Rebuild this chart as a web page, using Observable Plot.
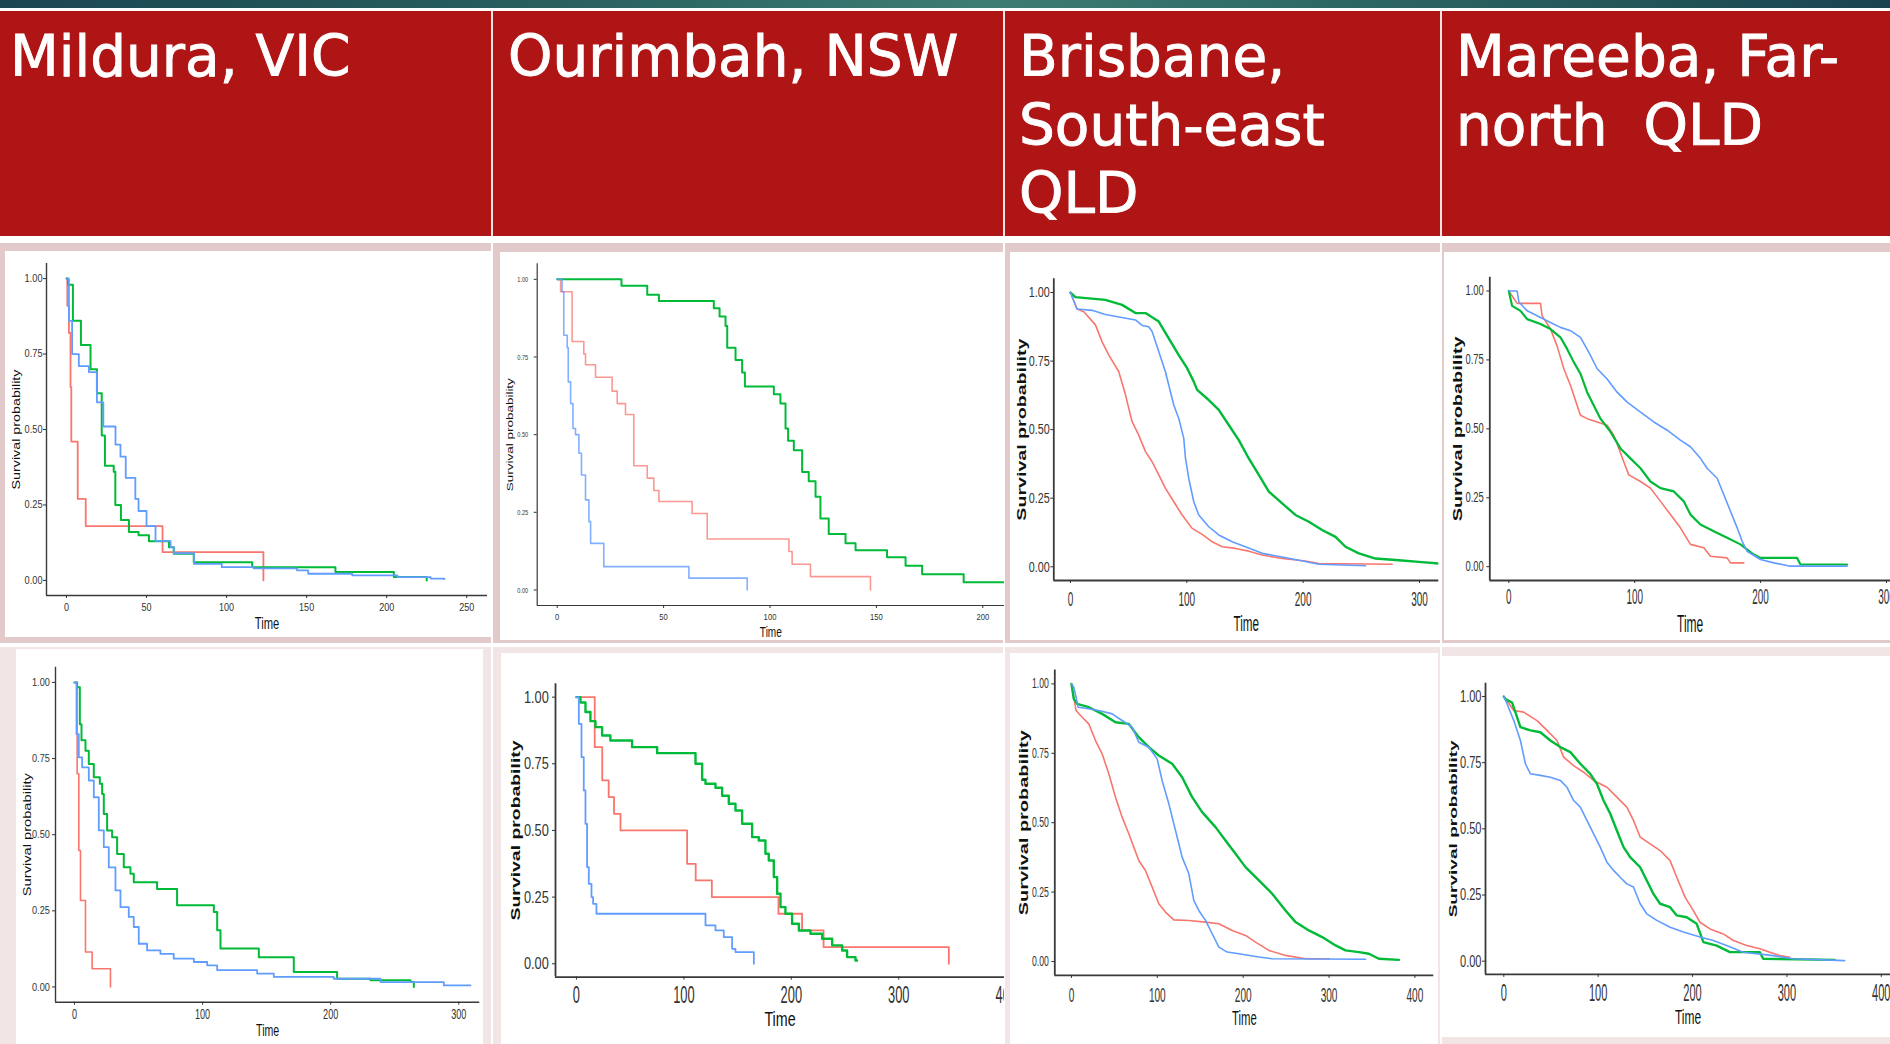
<!DOCTYPE html>
<html>
<head>
<meta charset="utf-8">
<script src="https://cdn.jsdelivr.net/npm/d3@7"></script>
<script src="https://cdn.jsdelivr.net/npm/@observablehq/plot@0.6"></script>
<style>
  html, body { margin: 0; padding: 0; width: 1890px; height: 1044px; overflow: hidden; background: #fff; }
  #page { position: relative; width: 1890px; height: 1044px; overflow: hidden; }
  .abs { position: absolute; }
  .band { left: 0; top: 0; width: 1890px; height: 8px;
    background: linear-gradient(90deg, #1b4651 0%, #28605f 30%, #3e7d73 52%, #2c6663 72%, #1a4450 100%); }
  .header { left: 0; top: 11px; width: 1890px; height: 225px; background: #af1515; }
  .sep { top: 11px; width: 2px; height: 225px; background: #f3e3e3; }
  .htext { color: #fff; font-family: "DejaVu Sans", sans-serif; font-size: 56.5px; line-height: 68.5px;
    white-space: pre; top: 23px; -webkit-text-stroke: 0.9px #fff; }
  .cell1 { background: #e3caca; top: 243px; height: 400px; }
  .cell2 { background: #f1e5e5; top: 647px; height: 397px; }
  .panel svg { display: block; }
</style>
</head>
<body>
<div id="page"></div>
<script>
// Column headings
const regions = ["Mildura, VIC", "Ourimbah, NSW", "Brisbane,\nSouth-east\nQLD", "Mareeba, Far-\nnorth  QLD"];

// Kaplan–Meier survival curves: [time, survival probability]
// Mildura, VIC – upper panel
const milduraTopRed = [[0,1],[0.5,0.91],[1.5,0.82],[2.5,0.64],[3,0.46],[7,0.27],[12,0.18],[60,0.094],[123,0]];
const milduraTopGreen = [[0,1],[1,0.98],[4,0.86],[9,0.78],[15,0.70],[19,0.62],[22,0.48],[24,0.38],[29.5,0.36],[30.5,0.25],[34,0.20],[39,0.16],[45,0.15],[51.5,0.13],[64,0.11],[67,0.088],[79.5,0.06],[116,0.044],[168,0.028],[204.5,0.011],[225,0]];
const milduraTopBlue = [[0,1],[1.5,0.86],[3.5,0.75],[7.7,0.71],[14,0.69],[19,0.59],[23,0.51],[30.6,0.45],[33.7,0.41],[37,0.34],[43,0.27],[45,0.23],[50,0.18],[55.6,0.13],[65,0.11],[67,0.09],[79.6,0.055],[97,0.044],[117,0.04],[144,0.033],[151,0.022],[178.5,0.017],[206.7,0.011],[227.5,0.006],[236,0.004]];

// Ourimbah, NSW – upper panel
const ourimbahTopRed = [[0,1],[1.6,0.96],[7,0.80],[12.5,0.76],[13.3,0.725],[18,0.685],[25.8,0.64],[28.2,0.60],[32.1,0.565],[36,0.40],[42.3,0.36],[45.4,0.32],[47.8,0.285],[63.4,0.246],[70.5,0.164],[108.9,0.124],[110.4,0.083],[119,0.043],[147.2,0]];
const ourimbahTopGreen = [[0,1],[30.2,0.979],[42.3,0.95],[47.8,0.93],[73.6,0.907],[76.3,0.88],[79.1,0.85],[79.9,0.78],[83.8,0.74],[86.9,0.70],[88.2,0.655],[101.8,0.63],[104.9,0.60],[107.3,0.52],[108.5,0.48],[111.2,0.45],[115.1,0.38],[118.2,0.35],[121.4,0.30],[123.7,0.23],[127.6,0.18],[135.5,0.15],[140.2,0.128],[155,0.105],[163.7,0.078],[171.5,0.051],[191,0.025],[210.6,0.025]];
const ourimbahTopBlue = [[0,1],[2.3,0.96],[3.1,0.82],[4.7,0.78],[5.2,0.67],[6.3,0.60],[7.4,0.52],[8.6,0.50],[10.2,0.44],[11.4,0.37],[13.3,0.29],[14.9,0.22],[15.7,0.15],[21.9,0.075],[61.9,0.038],[89.3,0]];

// Brisbane, South-east QLD – upper panel
const brisbaneTopRed = [[0,1],[5.7,0.94],[11.5,0.93],[21.5,0.882],[27.2,0.82],[33,0.772],[41.5,0.712],[47.3,0.627],[53,0.529],[58.7,0.48],[64.5,0.42],[70.2,0.383],[75.9,0.335],[81.7,0.286],[88.8,0.237],[96,0.189],[104.6,0.14],[113.2,0.118],[121.8,0.091],[130.4,0.073],[141.8,0.067],[153.3,0.057],[164.8,0.043],[182,0.03],[202,0.021],[213.5,0.012],[276.5,0.009]];
const brisbaneTopGreen = [[0,1],[4.3,0.983],[30,0.973],[44.4,0.955],[55.9,0.925],[64.5,0.925],[75.9,0.894],[84.5,0.833],[93.1,0.772],[100.3,0.724],[106,0.675],[108.9,0.645],[118.9,0.608],[127.5,0.572],[136.1,0.517],[144.7,0.462],[153.3,0.395],[161.9,0.335],[170.5,0.274],[182,0.231],[193.4,0.189],[204.9,0.164],[216.3,0.134],[227.8,0.109],[236.4,0.073],[247.9,0.049],[262.2,0.030],[282.2,0.024],[299.4,0.018],[316.6,0.012]];
const brisbaneTopBlue = [[0,1],[5.7,0.94],[18.6,0.935],[30,0.92],[43,0.91],[55.9,0.90],[61.6,0.88],[67.3,0.875],[70.2,0.858],[75.9,0.785],[81.7,0.71],[84.5,0.663],[88.8,0.59],[93.1,0.541],[97.4,0.468],[98.9,0.395],[101.7,0.322],[106,0.237],[110.3,0.189],[118.9,0.146],[127.5,0.116],[139,0.091],[150.4,0.073],[164.8,0.049],[181.9,0.036],[196.3,0.024],[213.5,0.009],[253.6,0.004]];

// Mareeba, Far-north QLD – upper panel
const mareebaTopRed = [[0,1],[6.6,0.955],[25.2,0.955],[26.5,0.91],[33.1,0.862],[38.4,0.80],[43.7,0.718],[49,0.657],[54.3,0.585],[56.9,0.549],[62.2,0.537],[78.1,0.513],[83.4,0.477],[87.4,0.429],[91.3,0.381],[95.3,0.333],[104.6,0.309],[112.5,0.285],[120.5,0.237],[128.4,0.189],[136.3,0.141],[144.3,0.081],[154.9,0.069],[160.2,0.038],[173.4,0.032],[176.1,0.014],[186.7,0.014]];
const mareebaTopGreen = [[0,1],[2.6,0.946],[9.3,0.928],[14.6,0.898],[25.2,0.88],[33.1,0.862],[41,0.832],[46.3,0.79],[51.6,0.742],[56.9,0.70],[62.2,0.633],[67.5,0.585],[72.8,0.537],[80.8,0.489],[88.7,0.429],[96.6,0.393],[104.6,0.357],[112.5,0.309],[120.5,0.285],[131.1,0.273],[139,0.237],[144.3,0.189],[152.2,0.153],[162.8,0.129],[173.4,0.105],[184,0.081],[194.6,0.044],[199.9,0.032],[229,0.032],[231.7,0.008],[268.7,0.008]];
const mareebaTopBlue = [[0,1],[6.6,1],[8,0.96],[14.6,0.928],[25.2,0.904],[33.1,0.886],[41,0.868],[49,0.856],[56.9,0.832],[63.5,0.778],[70.2,0.718],[78.1,0.681],[86,0.633],[94,0.597],[104.6,0.561],[115.2,0.525],[125.8,0.495],[136.3,0.459],[144.3,0.435],[152.2,0.393],[157.5,0.357],[165.5,0.321],[170.8,0.261],[176.1,0.201],[181.4,0.141],[185.3,0.093],[189.3,0.056],[199.9,0.026],[210.5,0.014],[223.7,0.002],[268.7,0.002]];

// Mildura, VIC – lower panel
const milduraLowRed = [[0,1],[2.1,0.70],[3.4,0.448],[4.7,0.284],[8.6,0.115],[13.8,0.06],[28.1,0]];
const milduraLowGreen = [[0,1],[2.1,0.984],[4.2,0.863],[5.5,0.81],[8.6,0.776],[11.2,0.732],[15.1,0.689],[19.8,0.667],[21.6,0.634],[22.9,0.568],[25.5,0.514],[29.4,0.492],[33.3,0.437],[38.5,0.393],[43.7,0.372],[46.3,0.344],[64.5,0.322],[80.1,0.268],[108.8,0.246],[111.4,0.186],[114,0.126],[143.9,0.098],[171.2,0.049],[205,0.027],[231.1,0.022],[262.3,0.016],[264.9,0]];
const milduraLowBlue = [[0,1],[1.6,0.83],[3.4,0.754],[6,0.721],[11.2,0.678],[15.1,0.623],[19,0.514],[22.9,0.459],[26.8,0.393],[32,0.317],[35.9,0.262],[42.4,0.23],[46.3,0.197],[50.2,0.142],[56.7,0.12],[67.1,0.109],[77.5,0.093],[93.2,0.082],[103.6,0.071],[111.4,0.055],[142.6,0.044],[155.6,0.033],[202.4,0.027],[238.9,0.016],[288.3,0.005],[309.1,0.005]];

// Ourimbah, NSW – lower panel
const ourimbahLowRed = [[0,1],[17,0.8125],[24,0.6875],[30,0.625],[35,0.5625],[41,0.5],[103,0.375],[111,0.3125],[126,0.25],[188,0.1875],[210,0.125],[230,0.0625],[346.6,0]];
const ourimbahLowGreen = [[0,1],[3.7,0.98],[8.4,0.944],[13,0.91],[17.7,0.8875],[23.9,0.856],[31.6,0.8375],[51.8,0.8125],[75.1,0.79],[110.8,0.75],[117,0.69],[120.1,0.675],[129.4,0.66],[135.6,0.63],[141.8,0.60],[148,0.575],[154.2,0.525],[163.5,0.475],[169.7,0.4625],[175.9,0.4125],[179,0.3875],[183.7,0.325],[186.8,0.2625],[189.9,0.2125],[194.5,0.1875],[200.7,0.15],[207,0.125],[217.8,0.1125],[228.7,0.094],[238,0.069],[247.3,0.05],[251.9,0.025],[259.7,0.0125],[261.2,0.0125]];
const ourimbahLowBlue = [[0,1],[2.2,0.9],[4.7,0.775],[6.8,0.65],[8.4,0.525],[9.9,0.3625],[11.5,0.3],[14,0.25],[15.5,0.225],[18.6,0.1875],[120.1,0.144],[129.4,0.125],[137.1,0.1],[144.9,0.056],[148,0.044],[165.1,0]];

// Brisbane, South-east QLD – lower panel
const brisbaneLowRed = [[0,1],[2.7,0.952],[5.4,0.904],[12.4,0.88],[20.2,0.856],[28,0.796],[35.7,0.748],[43.5,0.676],[51.3,0.592],[59,0.52],[66.8,0.46],[72.6,0.412],[78.4,0.364],[86.2,0.328],[94,0.268],[101.7,0.208],[109.5,0.178],[119.2,0.15],[136.7,0.148],[156.1,0.142],[171.7,0.136],[187.2,0.112],[202.7,0.094],[214.4,0.07],[229.9,0.04],[249.3,0.022],[272.6,0.01],[299.8,0.01]];
const brisbaneLowGreen = [[0,1],[2.7,0.946],[6.6,0.928],[20.2,0.916],[35.7,0.892],[51.3,0.862],[66.8,0.856],[78.4,0.808],[90.1,0.772],[101.7,0.742],[117.3,0.712],[128.9,0.664],[140.6,0.592],[152.2,0.538],[167.8,0.484],[179.4,0.436],[191.1,0.388],[202.7,0.34],[218.3,0.292],[233.8,0.244],[249.3,0.184],[261,0.142],[276.5,0.112],[292,0.088],[307.6,0.058],[319.2,0.04],[334.8,0.034],[346.4,0.028],[358,0.01],[381.4,0.006]];
const brisbaneLowBlue = [[0,1],[2.7,0.988],[5.4,0.952],[7.8,0.916],[16.3,0.912],[31.8,0.904],[47.4,0.892],[59,0.868],[70.7,0.844],[78.4,0.79],[90.1,0.772],[99.8,0.73],[105.6,0.652],[113.4,0.568],[121.2,0.472],[128.9,0.376],[136.7,0.316],[142.5,0.22],[148.3,0.184],[156.1,0.148],[163.9,0.1],[171.7,0.052],[181.4,0.034],[195,0.028],[218.3,0.016],[233.8,0.01],[342.5,0.008]];

// Mareeba, Far-north QLD – lower panel
const mareebaLowRed = [[0,1],[10.6,0.947],[21.1,0.941],[35.2,0.909],[45.8,0.872],[56.4,0.834],[63.4,0.771],[74,0.739],[84.6,0.714],[95.2,0.683],[109.3,0.657],[119.8,0.62],[130.4,0.582],[137.4,0.532],[144.5,0.469],[155.1,0.443],[165.6,0.418],[176.2,0.38],[183.3,0.317],[192.1,0.242],[200.9,0.191],[207.9,0.147],[218.5,0.122],[232.6,0.103],[243.2,0.078],[257.3,0.059],[271.4,0.047],[281.9,0.034],[292.5,0.021],[303.1,0.015]];
const mareebaLowGreen = [[0,1],[1.8,0.99],[8.8,0.977],[17.6,0.884],[28.2,0.872],[38.8,0.865],[49.3,0.834],[59.9,0.809],[70.5,0.79],[81.1,0.746],[91.6,0.708],[98.7,0.67],[105.7,0.607],[112.8,0.557],[119.8,0.494],[126.9,0.431],[133.9,0.393],[144.5,0.355],[151.5,0.305],[158.6,0.254],[165.6,0.217],[176.2,0.204],[183.3,0.173],[193.8,0.166],[204.4,0.141],[211.5,0.072],[225.6,0.059],[239.6,0.034],[271.4,0.034],[274.9,0.009],[350.7,0.005]];
const mareebaLowBlue = [[0,1],[3.5,0.972],[10.6,0.909],[17.6,0.834],[22.9,0.746],[28.2,0.708],[38.8,0.702],[49.3,0.695],[59.9,0.683],[67,0.657],[74,0.607],[81.1,0.582],[88.1,0.532],[95.2,0.481],[102.2,0.431],[109.3,0.374],[116.3,0.343],[123.3,0.317],[130.4,0.292],[137.4,0.28],[144.5,0.217],[151.5,0.179],[162.1,0.154],[176.2,0.128],[190.3,0.11],[207.9,0.091],[222,0.078],[236.1,0.059],[253.7,0.034],[285.5,0.021],[306.6,0.009],[361.2,0.002]];

// Axis ticks
const yTicks = [0, 0.25, 0.5, 0.75, 1];
const xTicks250 = [0, 50, 100, 150, 200, 250];
const xTicks200 = [0, 50, 100, 150, 200];
const xTicks300 = [0, 100, 200, 300];
const xTicks400 = [0, 100, 200, 300, 400];

const RED = "#F8766D", GREEN = "#00BA38", BLUE = "#619CFF";
const FONT = "'Liberation Sans', Arial, sans-serif";

const page = document.getElementById("page");
function box(cls, style) {
  const d = document.createElement("div");
  d.className = "abs " + cls;
  Object.assign(d.style, style || {});
  page.appendChild(d);
  return d;
}

// Slide frame: top band, heading row and cell backgrounds
box("band");
box("header");
const colX = [[0, 491], [493, 1003], [1005, 1440], [1442, 1890]];
colX.forEach(([a, b]) => {
  box("cell1", {left: a + "px", width: (b - a) + "px"});
  box("cell2", {left: a + "px", width: (b - a) + "px"});
});
[491, 1003, 1440].forEach(x => box("sep", {left: x + "px"}));
const headLeft = [10, 508, 1019, 1456];
regions.forEach((r, i) => {
  const d = box("htext", {left: headLeft[i] + "px"});
  d.textContent = r;
});

// Squeeze or stretch a text element to a given length
function fitText(t, len) {
  t.setAttribute("textLength", len);
  t.setAttribute("lengthAdjust", "spacingAndGlyphs");
}

function panel(p) {
  const marks = [];
  p.series.forEach(s => {
    marks.push(Plot.line(s.data.map(([t, v]) => ({t, v})), {
      x: "t", y: "v", stroke: s.color, strokeWidth: s.w, strokeOpacity: s.o ?? 1,
      curve: p.curve, clip: true
    }));
  });
  marks.push(Plot.ruleY([-0.05], {stroke: "#3a3a3a", strokeWidth: p.axisW}));
  marks.push(Plot.ruleX([p.xDomain[0]], {stroke: "#3a3a3a", strokeWidth: p.axisW}));
  marks.push(Plot.axisY({ticks: yTicks, tickFormat: d3.format(".2f"), tickSize: 3, tickPadding: p.yGap - 3,
    fontSize: p.yFont, label: null, color: "#333"}));
  marks.push(Plot.axisX({ticks: p.xTicks, tickFormat: d => String(d), tickSize: 3, tickPadding: p.xGap - 3,
    fontSize: p.xFont, label: null, color: "#333"}));
  marks.push(Plot.text(["Time"], {text: d => d, frameAnchor: "bottom", dy: p.timeDy,
    textAnchor: "middle", lineAnchor: "middle", fontSize: p.timeFont, fill: "#111"}));
  marks.push(Plot.text(["Survival probability"], {text: d => d, frameAnchor: "left", dx: p.titleDx,
    textAnchor: "middle", lineAnchor: "middle",
    rotate: -90, fontSize: p.titleFont, fontWeight: p.titleWeight, fill: "#111"}));

  const svg = Plot.plot({
    width: p.w, height: p.h,
    marginLeft: p.m[0], marginTop: p.m[1], marginRight: p.m[2], marginBottom: p.m[3],
    x: {domain: p.xDomain},
    y: {domain: [-0.05, 1.05]},
    style: {background: "white", fontFamily: FONT, overflow: "hidden"},
    marks
  });
  const holder = box("panel", {left: p.x + "px", top: p.y + "px", width: p.w + "px", height: p.h + "px", overflow: "hidden"});
  holder.appendChild(svg);

  svg.querySelectorAll('g[aria-label="y-axis tick label"] text').forEach(t => fitText(t, t.getComputedTextLength() * p.yK));
  svg.querySelectorAll('g[aria-label="x-axis tick label"] text').forEach(t => fitText(t, t.getComputedTextLength() * p.xK));
  svg.querySelectorAll("text").forEach(t => {
    if (t.textContent === "Time") fitText(t, t.getComputedTextLength() * p.timeK);
    if (t.textContent === "Survival probability") fitText(t, p.titleLen);
  });
}

const panels = [
  {x: 5, y: 251, w: 486, h: 386, m: [41, 12, 4, 42], xDomain: [-12.5, 263], xTicks: xTicks250, curve: "step-after", axisW: 1.4,
   yFont: 10, yK: 0.92, yGap: 4, xFont: 11, xK: 0.82, xGap: 8, timeFont: 16, timeK: 0.7, timeDy: 28,
   titleFont: 11, titleWeight: "normal", titleLen: 120, titleDx: -30,
   series: [{data: milduraTopRed, color: RED, w: 1.8}, {data: milduraTopGreen, color: GREEN, w: 2}, {data: milduraTopBlue, color: BLUE, w: 1.8}]},
  {x: 500, y: 252, w: 504, h: 388, m: [36.7, 11.3, 0, 35], xDomain: [-9.4, 210.2], xTicks: xTicks200, curve: "step-after", axisW: 1.2,
   yFont: 8, yK: 0.7, yGap: 9, xFont: 9, xK: 0.85, xGap: 8.5, timeFont: 14, timeK: 0.72, timeDy: 26.7,
   titleFont: 8.5, titleWeight: "normal", titleLen: 113, titleDx: -26.7,
   series: [{data: ourimbahTopRed, color: RED, w: 1.6, o: 0.75}, {data: ourimbahTopGreen, color: GREEN, w: 2}, {data: ourimbahTopBlue, color: BLUE, w: 1.6, o: 0.8}]},
  {x: 1010, y: 252, w: 430, h: 388, m: [43.3, 26.3, 1.7, 60], xDomain: [-14.3, 316.6], xTicks: xTicks300, curve: "linear", axisW: 1.8,
   yFont: 15, yK: 0.72, yGap: 4, xFont: 20, xK: 0.5, xGap: 11.7, timeFont: 22, timeK: 0.53, timeDy: 43.3,
   titleFont: 12, titleWeight: "bold", titleLen: 182, titleDx: -31.6,
   series: [{data: brisbaneTopRed, color: RED, w: 1.6}, {data: brisbaneTopGreen, color: GREEN, w: 2.4}, {data: brisbaneTopBlue, color: BLUE, w: 1.6}]},
  {x: 1444, y: 252, w: 446, h: 388, m: [45.3, 24.7, 0, 60], xDomain: [-15.1, 303.2], xTicks: xTicks300, curve: "linear", axisW: 1.8,
   yFont: 14, yK: 0.67, yGap: 6, xFont: 22, xK: 0.45, xGap: 8.3, timeFont: 24, timeK: 0.5, timeDy: 44.3,
   titleFont: 12.5, titleWeight: "bold", titleLen: 185, titleDx: -32,
   series: [{data: mareebaTopRed, color: RED, w: 1.6}, {data: mareebaTopGreen, color: GREEN, w: 2.2}, {data: mareebaTopBlue, color: BLUE, w: 1.6}]},
  {x: 16, y: 649, w: 467, h: 395, m: [39, 17.7, 3.7, 42.3], xDomain: [-14.8, 316.4], xTicks: xTicks300, curve: "step-after", axisW: 1.4,
   yFont: 11, yK: 0.83, yGap: 5.7, xFont: 14, xK: 0.65, xGap: 6.7, timeFont: 16, timeK: 0.66, timeDy: 29,
   titleFont: 11.5, titleWeight: "normal", titleLen: 123, titleDx: -28,
   series: [{data: milduraLowRed, color: RED, w: 1.6}, {data: milduraLowGreen, color: GREEN, w: 2}, {data: milduraLowBlue, color: BLUE, w: 1.8}]},
  {x: 501, y: 653, w: 503, h: 391, m: [54, 30.3, 0, 67.4], xDomain: [-19.5, 398.4], xTicks: xTicks400, curve: "step-after", axisW: 1.8,
   yFont: 17, yK: 0.75, yGap: 6.7, xFont: 23, xK: 0.56, xGap: 9.3, timeFont: 21, timeK: 0.68, timeDy: 42,
   titleFont: 13.5, titleWeight: "bold", titleLen: 180, titleDx: -40.3,
   series: [{data: ourimbahLowRed, color: RED, w: 1.8}, {data: ourimbahLowGreen, color: GREEN, w: 2.4}, {data: ourimbahLowBlue, color: BLUE, w: 1.8}]},
  {x: 1010, y: 653, w: 428, h: 391, m: [44.3, 16.5, 4.7, 69.1], xDomain: [-19.4, 422], xTicks: xTicks400, curve: "linear", axisW: 1.8,
   yFont: 14, yK: 0.62, yGap: 6, xFont: 21, xK: 0.48, xGap: 11.7, timeFont: 21, timeK: 0.54, timeDy: 42.7,
   titleFont: 12, titleWeight: "bold", titleLen: 185, titleDx: -30.6,
   series: [{data: brisbaneLowRed, color: RED, w: 1.6}, {data: brisbaneLowGreen, color: GREEN, w: 2.4}, {data: brisbaneLowBlue, color: BLUE, w: 1.6}]},
  {x: 1442, y: 656, w: 448, h: 381, m: [43, 26.8, 0, 63.1], xDomain: [-19.4, 409.8], xTicks: xTicks400, curve: "linear", axisW: 1.8,
   yFont: 17, yK: 0.65, yGap: 4, xFont: 23, xK: 0.48, xGap: 10.7, timeFont: 21, timeK: 0.57, timeDy: 42.7,
   titleFont: 11.5, titleWeight: "bold", titleLen: 177, titleDx: -32.3,
   series: [{data: mareebaLowRed, color: RED, w: 1.6}, {data: mareebaLowGreen, color: GREEN, w: 2.4}, {data: mareebaLowBlue, color: BLUE, w: 1.6}]}
];

panels.forEach(panel);
</script>
</body>
</html>
